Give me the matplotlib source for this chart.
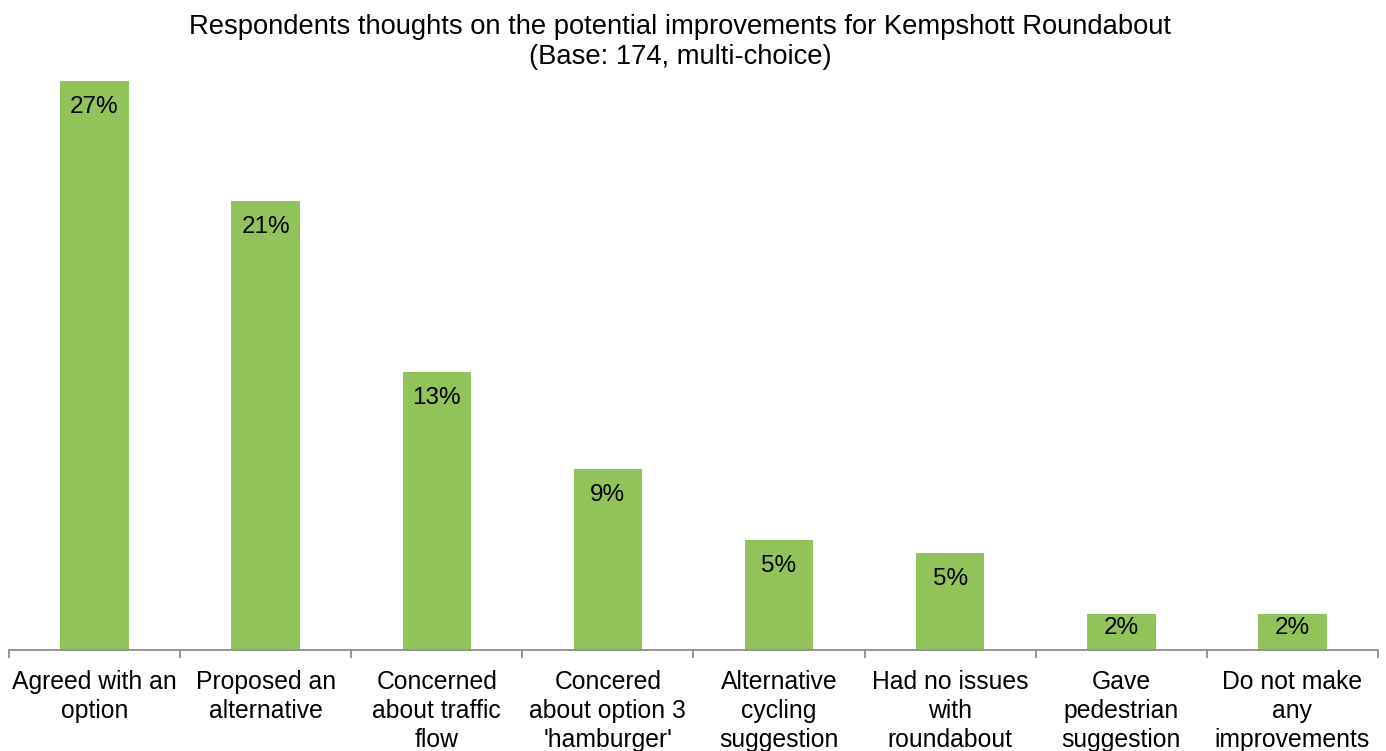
import numpy as np
import matplotlib
matplotlib.use("Agg")
import matplotlib.pyplot as plt

plt.rcParams['font.family'] = ['Liberation Sans', 'DejaVu Sans']

categories = ["Agreed with an\noption", "Proposed an\nalternative", "Concerned\nabout traffic\nflow",
              "Concered\nabout option 3\n'hamburger'", "Alternative\ncycling\nsuggestion",
              "Had no issues\nwith\nroundabout", "Gave\npedestrian\nsuggestion",
              "Do not make\nany\nimprovements"]
# share of 174 respondents, in %
values = [27.0, 21.3, 13.2, 8.6, 5.2, 4.6, 1.7, 1.7]
value_labels = ["27%", "21%", "13%", "9%", "5%", "5%", "2%", "2%"]

W, H = 1386, 751
fig = plt.figure(figsize=(W / 100, H / 100), dpi=100)
ax = fig.add_axes([9 / W, (H - 650) / H, (1378 - 9) / W, 632 / H])

x = np.arange(len(categories))
ax.bar(x, values, width=0.4, color='#92C25A', zorder=2)
for xi, v, lab in zip(x, values, value_labels):
    if v < 3:
        # too short for the usual inside-end spot, Excel centres it
        ax.annotate(lab, xy=(xi, v / 2), xytext=(0, 3), textcoords='offset points',
                    ha='center', va='center', fontsize=17.5, color='black')
    else:
        ax.annotate(lab, xy=(xi, v), xytext=(0, -18.5), textcoords='offset points',
                    ha='center', va='center', fontsize=17.5, color='black')

ax.set_xlim(-0.5, len(categories) - 0.5)
ax.set_ylim(0, 30)
ax.set_yticks([])
for s in ['top', 'right', 'left']:
    ax.spines[s].set_visible(False)
ax.spines['bottom'].set_color('#8C8C8C')
ax.spines['bottom'].set_linewidth(1.3)

ax.set_xticks(x)
ax.set_xticklabels(categories, fontsize=17.8, linespacing=1.25)
ax.tick_params(axis='x', which='major', length=0, pad=14.5)
ax.set_xticks(np.arange(len(categories) + 1) - 0.5, minor=True)
ax.tick_params(axis='x', which='minor', length=6, width=1.3, color='#8C8C8C')

fig.text(680 / W, 1 - 14 / H,
         "Respondents thoughts on the potential improvements for Kempshott Roundabout\n(Base: 174, multi-choice)",
         ha='center', va='top', fontsize=19.7, linespacing=1.22)

fig.savefig("out.png", dpi=100)
